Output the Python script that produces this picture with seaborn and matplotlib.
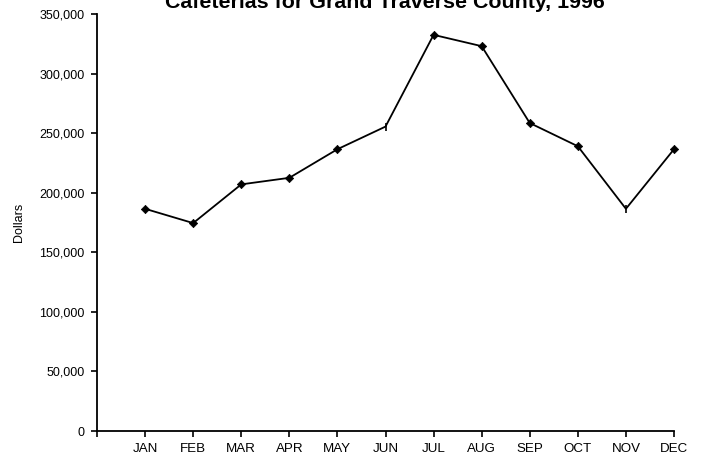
import matplotlib
matplotlib.use("Agg")
import matplotlib.pyplot as plt
import seaborn as sns
import pandas as pd
from matplotlib.ticker import FuncFormatter, FixedLocator

months = ["JAN", "FEB", "MAR", "APR", "MAY", "JUN",
          "JUL", "AUG", "SEP", "OCT", "NOV", "DEC"]
sales = [186500, 174500, 207000, 212500, 236500, 255500,
         332500, 323000, 258500, 239000, 186500, 236500]
title = "Cafeterias for Grand Traverse County, 1996"
y_label = "Dollars"

sns.set_theme(style="ticks")
plt.rcParams["font.family"] = ["Liberation Sans", "DejaVu Sans"]

df = pd.DataFrame({"pos": range(1, len(months) + 1), "month": months, "sales": sales})

fig = plt.figure(figsize=(7.05, 4.59), dpi=100)
ax = fig.add_axes([97 / 705, 1 - 431 / 459, (674 - 97) / 705, (431 - 14) / 459])

# line through all months
sns.lineplot(data=df, x="pos", y="sales", ax=ax, color="black", linewidth=1.3)

# diamond markers, with plain tick markers for June and November
plain = df["month"].isin(["JUN", "NOV"])
sns.scatterplot(data=df[~plain], x="pos", y="sales", ax=ax, marker="D",
                color="black", s=18, edgecolor="black", linewidth=0.5,
                zorder=3, clip_on=False)
sns.scatterplot(data=df[plain], x="pos", y="sales", ax=ax, marker="|",
                color="black", s=40, linewidth=1.2, zorder=3, clip_on=False)

ax.set_xlim(0, 12)
ax.set_ylim(0, 350000)
ax.xaxis.set_major_locator(FixedLocator(range(0, 13)))
ax.set_xticklabels([""] + months)
ax.set_yticks(range(0, 350001, 50000))
ax.yaxis.set_major_formatter(FuncFormatter(lambda v, p: f"{int(v):,}"))

for side in ["top", "right"]:
    ax.spines[side].set_visible(False)
for side in ["left", "bottom"]:
    ax.spines[side].set_color("black")
    ax.spines[side].set_linewidth(1.3)

ax.tick_params(axis="both", which="major", direction="out", length=4, width=1.2,
               color="black", labelcolor="black", bottom=True, left=True)
ax.tick_params(axis="x", pad=5, labelsize=9.6)
ax.tick_params(axis="y", pad=5, labelsize=9)

ax.set_xlabel("")
ax.set_ylabel(y_label, fontsize=9, color="black", labelpad=10)

fig.text(385 / 705, 1 - 8 / 459, title, ha="center", va="baseline",
         fontsize=15.4, fontweight="bold", color="black")

fig.savefig("out.png", dpi=100)
